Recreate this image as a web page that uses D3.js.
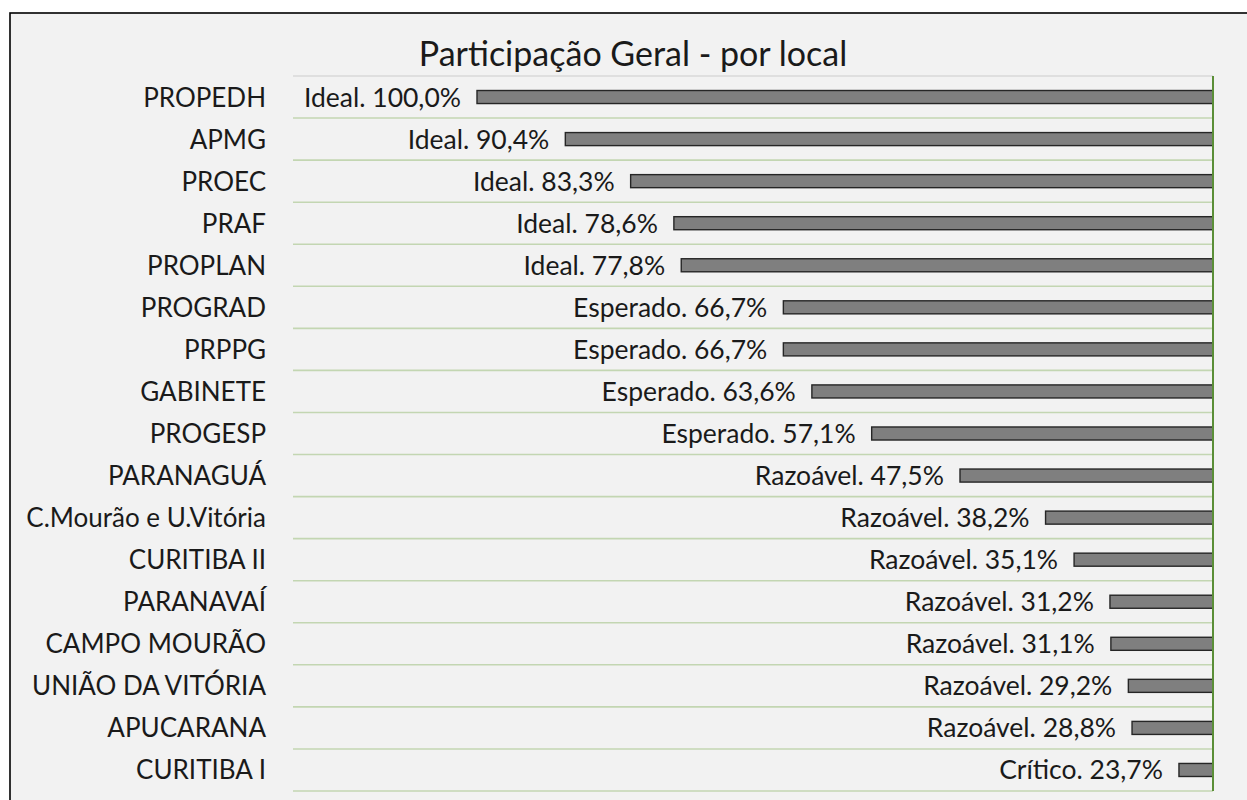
<!DOCTYPE html>
<html lang="pt">
<head>
    <meta charset="UTF-8">
    <title>Participação Geral - por local</title>
    <script src="https://d3js.org/d3.v7.min.js"></script>
    <style>
        body{
            margin: 0;
            background-color: #ffffff;
            font-family: 'Lato', 'Open Sans', sans-serif;
        }
    </style>
</head>
<body>
    <div class="chart"></div>

    <script>
        // dados
        var locais = ["PROPEDH","APMG","PROEC","PRAF","PROPLAN","PROGRAD","PRPPG","GABINETE","PROGESP",
                      "PARANAGUÁ","C.Mourão e U.Vitória","CURITIBA II","PARANAVAÍ","CAMPO MOURÃO",
                      "UNIÃO DA VITÓRIA","APUCARANA","CURITIBA I"];
        var valores = [1.000,0.904,0.833,0.786,0.778,0.667,0.667,0.636,0.571,
                       0.475,0.382,0.351,0.312,0.311,0.292,0.288,0.237];
        var niveis = ["Ideal","Ideal","Ideal","Ideal","Ideal","Esperado","Esperado","Esperado","Esperado",
                      "Razoável","Razoável","Razoável","Razoável","Razoável","Razoável","Razoável","Crítico"];
        var eixoX = [0.2, 1.2];

        var data = locais.map(function(l,i){
            return {local:l, valor:valores[i], nivel:niveis[i]}
        })

        var width = 1247, height = 800;
        var margin = {top:76, right:34, bottom:9, left:293};

        var svg = d3.select(".chart")
            .append("svg")
            .attr("width", width)
            .attr("height", height)

        // fundo e borda
        svg.append("rect")
            .attr("x", 10).attr("y", 13)
            .attr("width", width + 20).attr("height", height + 20)
            .attr("fill", "#f2f2f2")
            .attr("stroke", "#000")
            .attr("stroke-width", 1.6)

        var xScale = d3.scaleLinear()
            .domain(eixoX)
            .range([width - margin.right, margin.left]);

        var yScale = d3.scaleBand()
            .domain(locais)
            .range([margin.top, height - margin.bottom])
            .paddingInner(0.69)
            .paddingOuter(0.345);

        var step = yScale.step();

        // linhas de grade entre categorias
        svg.append("g")
            .selectAll("line")
            .data(d3.range(locais.length + 1))
            .join("line")
                .attr("x1", margin.left)
                .attr("x2", xScale(eixoX[0]))
                .attr("y1", function(i){return margin.top + i*step})
                .attr("y2", function(i){return margin.top + i*step})
                .attr("stroke", function(i){return i == 0 ? "#d9d9d9" : "#c3d6b2"})
                .attr("stroke-width", 1.6)

        // barras
        svg.append("g")
            .selectAll("rect")
            .data(data)
            .join("rect")
                .attr("x", function(d){return xScale(d.valor)})
                .attr("y", function(d){return yScale(d.local)})
                .attr("width", function(d){return xScale(eixoX[0]) - xScale(d.valor)})
                .attr("height", yScale.bandwidth())
                .attr("fill", "#7f7f7f")
                .attr("stroke", "#262626")
                .attr("stroke-width", 1.4)

        // eixo vertical (direita)
        svg.append("line")
            .attr("x1", xScale(eixoX[0])).attr("x2", xScale(eixoX[0]))
            .attr("y1", margin.top).attr("y2", height - margin.bottom)
            .attr("stroke", "#5b8f38")
            .attr("stroke-width", 2)

        var fmt = d3.format(".1%");

        // rótulos de dados
        svg.append("g")
            .selectAll("text")
            .data(data)
            .join("text")
                .attr("x", function(d){return xScale(d.valor) - 16})
                .attr("y", function(d){return yScale(d.local) + yScale.bandwidth()/2 + 9.5})
                .attr("text-anchor", "end")
                .attr("font-size", "26.5px")
                .attr("fill", "#1a1a1a")
                .text(function(d){return d.nivel + ". " + fmt(d.valor).replace(".", ",")})

        // categorias
        svg.append("g")
            .selectAll("text")
            .data(data)
            .join("text")
                .attr("x", 266)
                .attr("y", function(d){return yScale(d.local) + yScale.bandwidth()/2 + 9.5})
                .attr("text-anchor", "end")
                .attr("font-size", "26px")
                .attr("fill", "#1a1a1a")
                .text(function(d){return d.local})

        // título
        svg.append("text")
            .attr("x", 633)
            .attr("y", 66)
            .attr("text-anchor", "middle")
            .attr("font-size", "34px")
            .attr("fill", "#1a1a1a")
            .text("Participação Geral - por local")
    </script>
</body>
</html>
